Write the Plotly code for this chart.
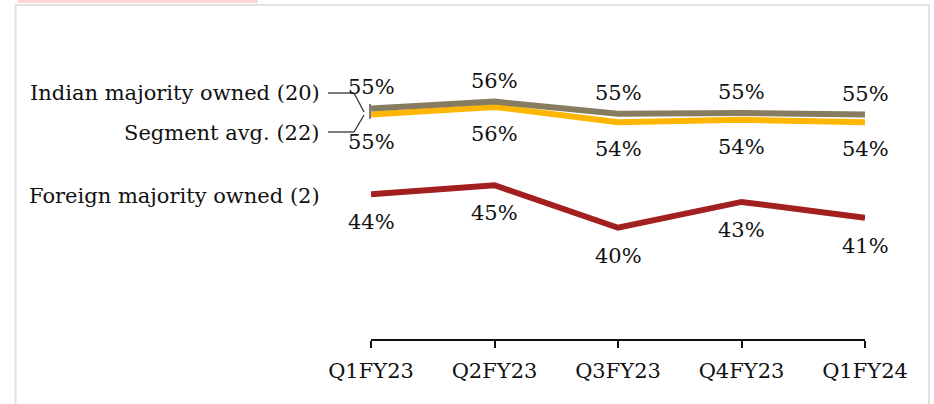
import plotly.graph_objects as go

# Quarterly share (%) by ownership group
quarters = ["Q1FY23", "Q2FY23", "Q3FY23", "Q4FY23", "Q1FY24"]
indian_majority = [55.4, 56.3, 54.7, 54.8, 54.6]
segment_avg = [54.6, 55.6, 53.6, 53.9, 53.6]
foreign_majority = [44.1, 45.3, 39.7, 43.1, 41.0]

series_names = ["Indian majority owned (20)", "Segment avg. (22)", "Foreign majority owned (2)"]

W, H = 934, 404
ML, MR, MT, MB = 371, 69, 40, 65
PW, PH = W - ML - MR, H - MT - MB

FONT = "DejaVu Serif"
FS = 21
GRAY = "#877c60"
GOLD = "#ffb600"
RED = "#a32020"


def px_x(px):
    return (px - ML) / PW


def px_y(py):
    return (H - MB - py) / PH


fig = go.Figure()
fig.add_trace(go.Scatter(x=quarters, y=segment_avg, mode="lines",
                         line=dict(color=GOLD, width=6), hoverinfo="skip"))
fig.add_trace(go.Scatter(x=quarters, y=indian_majority, mode="lines",
                         line=dict(color=GRAY, width=6), hoverinfo="skip"))
fig.add_trace(go.Scatter(x=quarters, y=foreign_majority, mode="lines",
                         line=dict(color=RED, width=6), hoverinfo="skip"))

annotations = []
# value labels: Indian above its line, the other two below
for values, shift in ((indian_majority, 21), (segment_avg, -27), (foreign_majority, -28)):
    for q, v in zip(quarters, values):
        annotations.append(dict(x=q, y=v, xref="x", yref="y", text=f"{v:.0f}%",
                                showarrow=False, yshift=shift,
                                font=dict(family=FONT, size=FS, color="#111111")))

# series names on the left
for name, py in zip(series_names, (93, 133, 196)):
    annotations.append(dict(x=px_x(322), y=px_y(py), xref="paper", yref="paper",
                            text=name, showarrow=False, xanchor="right", yanchor="middle",
                            font=dict(family=FONT, size=FS, color="#111111")))

shapes = [
    # outer frame
    dict(type="rect", xref="paper", yref="paper",
         x0=px_x(15.5), x1=px_x(929), y0=px_y(420), y1=px_y(5),
         line=dict(color="#e2e2e2", width=2), fillcolor="rgba(0,0,0,0)", layer="below"),
    # accent strip on top
    dict(type="rect", xref="paper", yref="paper",
         x0=px_x(18), x1=px_x(258), y0=px_y(3), y1=px_y(0),
         line=dict(width=0), fillcolor="#fcd5d3", layer="below"),
]

# leader lines from the left labels to the start of the lines
leader = dict(color="#333333", width=1.3)
for pts in (((328, 93), (354, 93), (364, 112)),
            ((328, 132), (354, 132), (364, 115))):
    for (xa, ya), (xb, yb) in zip(pts[:-1], pts[1:]):
        shapes.append(dict(type="line", xref="paper", yref="paper",
                           x0=px_x(xa), y0=px_y(ya), x1=px_x(xb), y1=px_y(yb), line=leader))
shapes.append(dict(type="line", xref="paper", yref="paper",
                   x0=px_x(370), y0=px_y(104), x1=px_x(370), y1=px_y(119), line=leader))

fig.update_layout(
    width=W, height=H,
    margin=dict(l=ML, r=MR, t=MT, b=MB),
    paper_bgcolor="white", plot_bgcolor="white",
    showlegend=False,
    annotations=annotations,
    shapes=shapes,
    xaxis=dict(type="category", range=[0, 4], showgrid=False, zeroline=False,
               showline=True, linecolor="#111111", linewidth=2,
               ticks="outside", ticklen=7, tickwidth=2, tickcolor="#111111",
               ticklabelstandoff=5,
               tickfont=dict(family=FONT, size=FS, color="#111111")),
    yaxis=dict(visible=False, range=[25.06, 64.41]),
)

fig.write_html("out.html")
